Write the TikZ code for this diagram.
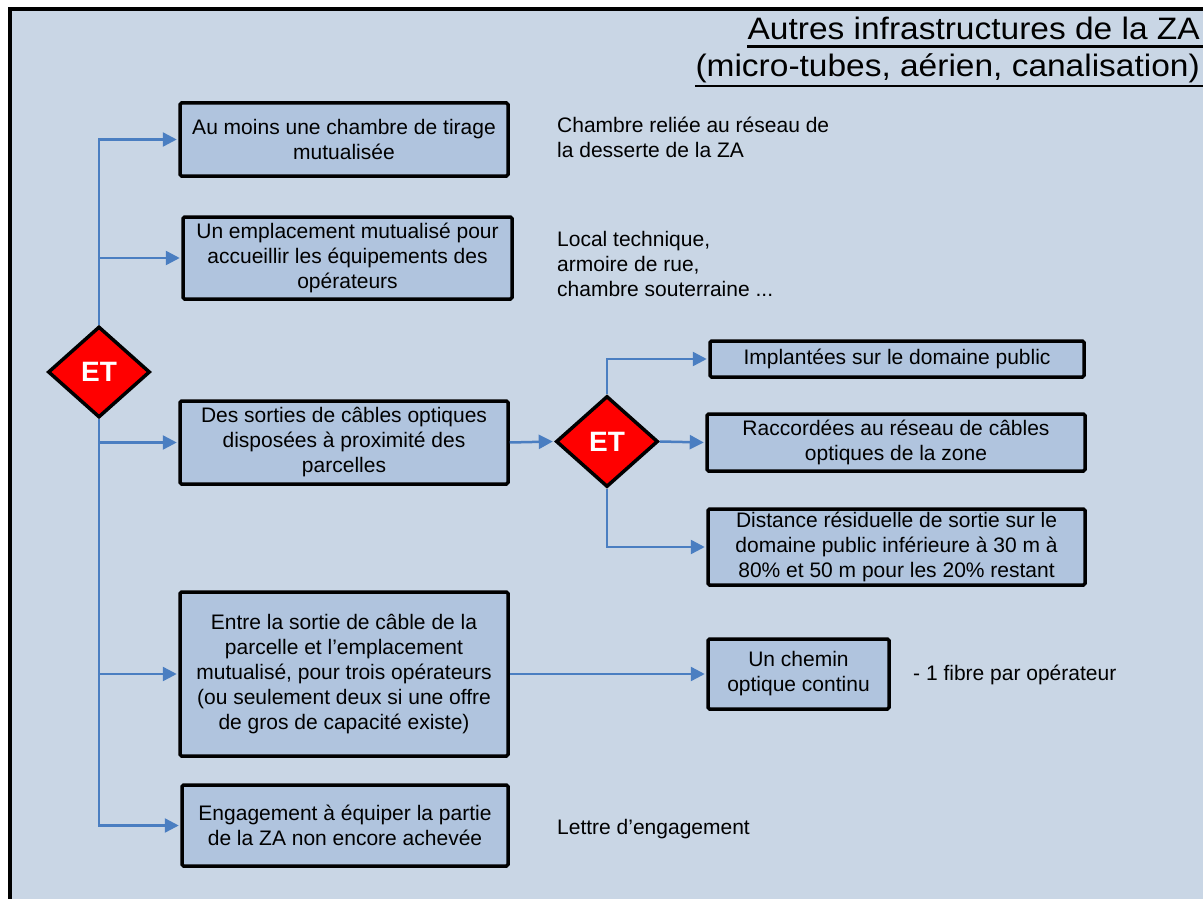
\documentclass[tikz,border=0pt]{standalone}
\usepackage{fontspec}
\usepackage{graphicx}
\setmainfont{Liberation Sans}
\usetikzlibrary{shapes.geometric,arrows.meta}
\definecolor{bgblue}{RGB}{201,214,229}
\definecolor{boxblue}{RGB}{176,196,222}
\definecolor{lineblue}{RGB}{74,126,193}
\begin{document}
\begin{tikzpicture}[x=1pt,y=-1pt,
 box/.style={draw=black, line width=3.5pt, fill=boxblue, rounded corners=1.5pt, align=center, inner sep=0pt, font=\fontsize{21}{25}\selectfont},
 gate/.style={diamond, draw=black, line width=3.5pt, fill=red, text=white, font=\fontsize{28}{30}\selectfont\bfseries, inner sep=0pt, minimum width=102pt, minimum height=91pt},
 arr/.style={draw=lineblue, line width=2.5pt, -{Triangle[length=14pt,width=14pt]}, shorten >=1.5pt},
 note/.style={align=left, inner sep=0pt, font=\fontsize{21}{25}\selectfont, anchor=west},
 title/.style={inner sep=0pt, font=\fontsize{31}{35}\selectfont, anchor=base east},
 uline/.style={line width=2.8pt}]
\useasboundingbox (0,0) rectangle (1203,899);
\clip (0,0) rectangle (1203,899);
\fill[white] (0,0) rectangle (1203,899);
\draw[line width=4pt, fill=bgblue] (9.5,9.5) rectangle (1230,930);

% title
\node[title] (t1) at (1200,40) {\scalebox{1.08}[1]{Autres infrastructures de la ZA}};
\node[title] (t2) at (1200,77) {\scalebox{1.08}[1]{(micro-tubes, aérien, canalisation)}};
\draw[uline] (t1.base west |- 0,46.5) -- (1203,46.5);
\draw[uline] (t2.base west |- 0,86) -- (1203,86);

% boxes
\node[box, minimum width=328pt, minimum height=73pt] (b1) at (344,139.5) {Au moins une chambre de tirage\\mutualisée};
\node[box, minimum width=329pt, minimum height=82pt] (b2) at (347.5,258) {Un emplacement mutualisé pour\\accueillir les équipements des\\opérateurs};
\node[box, minimum width=328pt, minimum height=83pt] (b3) at (344,442.5) {Des sorties de câbles optiques\\disposées à proximité des\\parcelles};
\node[box, minimum width=374pt, minimum height=36pt] (b4) at (897,359) {Implantées sur le domaine public};
\node[box, minimum width=378pt, minimum height=57pt] (b5) at (896,442.5) {Raccordées au réseau de câbles\\optiques de la zone};
\node[box, minimum width=377pt, minimum height=76pt] (b6) at (896.5,547) {Distance résiduelle de sortie sur le\\domaine public inférieure à 30 m à\\80\% et 50 m pour les 20\% restant};
\node[box, minimum width=328pt, minimum height=164pt] (b7) at (344,674) {Entre la sortie de câble de la\\parcelle et l’emplacement\\mutualisé, pour trois opérateurs\\(ou seulement deux si une offre\\de gros de capacité existe)};
\node[box, minimum width=181pt, minimum height=70pt] (b8) at (798.5,674) {Un chemin\\optique continu};
\node[box, minimum width=326pt, minimum height=81pt] (b9) at (345,825.5) {Engagement à équiper la partie\\de la ZA non encore achevée};

% gates
\node[gate] (d1) at (99,372) {ET};
\node[gate] (d2) at (607,441.5) {ET};

% connectors
\draw[arr] (d1.north) |- (b1.west);
\draw[arr] (d1.north) |- (b2.west);
\draw[arr] (d1.south) |- (b3.west);
\draw[arr] (d1.south) |- (b7.west);
\draw[arr] (d1.south) |- (b9.west);
\draw[arr] (b3.east) -- (d2.west);
\draw[arr] (d2.north) |- (b4.west);
\draw[arr] (d2.east) -- (b5.west);
\draw[arr] (d2.south) |- (b6.west);
\draw[arr] (b7.east) -- (b8.west);

% notes
\node[note] (n1) at (557,137) {Chambre reliée au réseau de\\la desserte de la ZA};
\node[note] (n2) at (557,264) {Local technique,\\armoire de rue,\\chambre souterraine ...};
\node[note] (n3) at (913,675) {- 1 fibre par opérateur};
\node[note] (n4) at (557,829) {Lettre d’engagement};
\end{tikzpicture}
\end{document}
